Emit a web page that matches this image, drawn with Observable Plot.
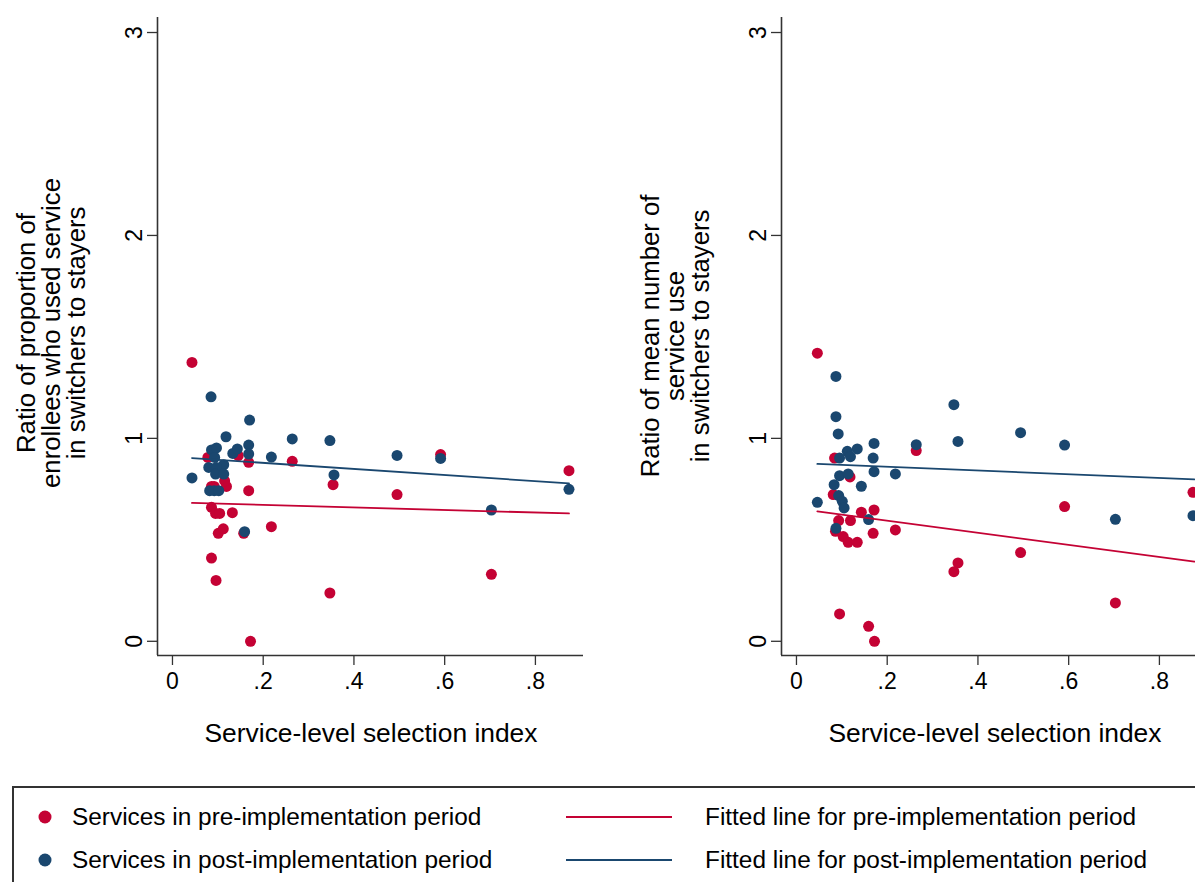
<!DOCTYPE html>
<html>
<head>
<meta charset="utf-8">
<script src="https://cdn.jsdelivr.net/npm/d3@7"></script>
<script src="https://cdn.jsdelivr.net/npm/@observablehq/plot@0.6"></script>
<style>
  html, body { margin: 0; padding: 0; background: #fff; overflow: hidden; width: 1195px; height: 882px; }
  body { position: relative; font-family: "Liberation Sans", Arial, sans-serif; color: #000; }
  .panel { position: absolute; top: 0; width: 620px; height: 700px; }
  .panel svg { max-width: none !important; }
  .ytitle { position: absolute; transform: translate(-50%, -50%) rotate(-90deg); text-align: center; white-space: nowrap; font-size: 25.7px; line-height: 25px; }
  .xtitle { position: absolute; transform: translate(-50%, -50%); white-space: nowrap; font-size: 26.4px; }
  #legend { position: absolute; left: 12px; top: 786px; width: 1260px; height: 140px; border: 2px solid #333; box-sizing: border-box; }
  .lg { position: absolute; white-space: nowrap; font-size: 24.4px; transform: translateY(-50%); }
</style>
</head>
<body>
<div id="left" class="panel" style="left:0px"></div>
<div id="right" class="panel" style="left:624px"></div>
<div class="ytitle" style="left:51px; top:333px">Ratio of proportion of<br>enrollees who used service<br>in switchers to stayers</div>
<div class="ytitle" style="left:675px; top:336px">Ratio of mean number of<br>service use<br>in switchers to stayers</div>
<div class="xtitle" style="left:371px; top:733px">Service-level selection index</div>
<div class="xtitle" style="left:995px; top:733px">Service-level selection index</div>
<div id="legend"></div>
<script>
// ---- data ----
const xTicks = [0, 0.2, 0.4, 0.6, 0.8];
const xTickLabels = ["0", ".2", ".4", ".6", ".8"];
const yTicks = [0, 1, 2, 3];
const yTickLabels = ["0", "1", "2", "3"];

const legendLabels = [
  "Services in pre-implementation period",
  "Services in post-implementation period",
  "Fitted line for pre-implementation period",
  "Fitted line for post-implementation period"
];

// Left panel: ratio of proportion of enrollees who used service
const leftPre = [[0.043,1.374],[0.172,0.0],[0.086,0.41],[0.096,0.30],[0.347,0.238],[0.218,0.565],[0.101,0.532],[0.112,0.554],[0.157,0.532],[0.086,0.66],[0.095,0.63],[0.104,0.63],[0.132,0.634],[0.086,0.763],[0.092,0.763],[0.119,0.763],[0.115,0.79],[0.168,0.742],[0.168,0.882],[0.145,0.915],[0.078,0.906],[0.264,0.887],[0.354,0.772],[0.591,0.92],[0.495,0.723],[0.703,0.33],[0.874,0.841]];
const leftPost = [[0.085,1.205],[0.170,1.09],[0.118,1.008],[0.264,0.997],[0.347,0.989],[0.086,0.943],[0.097,0.953],[0.133,0.926],[0.143,0.948],[0.168,0.967],[0.168,0.923],[0.218,0.908],[0.093,0.906],[0.113,0.870],[0.080,0.857],[0.097,0.857],[0.095,0.824],[0.113,0.824],[0.043,0.805],[0.082,0.742],[0.092,0.742],[0.102,0.742],[0.356,0.82],[0.159,0.54],[0.495,0.916],[0.591,0.901],[0.703,0.647],[0.874,0.749]];
const leftFitPre = [[0.043,0.682],[0.874,0.630]];
const leftFitPost = [[0.043,0.903],[0.874,0.778]];

// Right panel: ratio of mean number of service use
const rightPre = [[0.046,1.42],[0.095,0.135],[0.159,0.074],[0.172,0.0],[0.084,0.903],[0.264,0.94],[0.081,0.723],[0.118,0.81],[0.143,0.636],[0.171,0.647],[0.119,0.595],[0.093,0.595],[0.086,0.542],[0.103,0.516],[0.114,0.488],[0.134,0.488],[0.169,0.532],[0.218,0.549],[0.591,0.664],[0.494,0.437],[0.356,0.386],[0.347,0.343],[0.703,0.189],[0.874,0.734]];
const rightPost = [[0.087,1.305],[0.087,1.107],[0.092,1.022],[0.171,0.975],[0.264,0.969],[0.112,0.936],[0.134,0.948],[0.119,0.91],[0.095,0.903],[0.169,0.903],[0.171,0.836],[0.218,0.825],[0.095,0.816],[0.114,0.825],[0.143,0.764],[0.083,0.772],[0.093,0.718],[0.101,0.69],[0.105,0.657],[0.046,0.685],[0.159,0.6],[0.087,0.557],[0.347,1.166],[0.356,0.985],[0.494,1.028],[0.591,0.967],[0.703,0.601],[0.874,0.619]];
const rightFitPre = [[0.046,0.640],[0.877,0.393]];
const rightFitPost = [[0.046,0.874],[0.877,0.798]];

// ---- styling ----
const RED = "#c40234";
const BLUE = "#1a476f";
const AXIS = "#333333";
const xDomain = [-0.033, 0.906];
const yDomain = [-0.070, 3.074];

function panel(pre, post, fitPre, fitPost) {
  return Plot.plot({
    width: 620,
    height: 700,
    marginLeft: 157,
    marginTop: 17,
    marginRight: 37,
    marginBottom: 45,
    style: { fontFamily: "Liberation Sans, Arial, sans-serif", fontSize: "23px", color: "#000", background: "transparent", overflow: "visible", maxWidth: "none" },
    x: { domain: xDomain },
    y: { domain: yDomain },
    marks: [
      Plot.axisX(xTicks, { tickSize: 10, tickPadding: 7, fontSize: 23, stroke: AXIS, strokeWidth: 1.3, label: null,
        tickFormat: d => xTickLabels[xTicks.indexOf(d)] }),
      Plot.axisY(yTicks, { tickSize: 10, tickPadding: 6, tickRotate: -90, fontSize: 23, stroke: AXIS, strokeWidth: 1.3, label: null,
        tickFormat: d => yTickLabels[yTicks.indexOf(d)] }),
      Plot.ruleX([xDomain[0]], { stroke: AXIS, strokeWidth: 1.6 }),
      Plot.ruleY([yDomain[0]], { stroke: AXIS, strokeWidth: 1.6 }),
      Plot.dot(pre, { x: d => d[0], y: d => d[1], r: 5.5, fill: RED, stroke: "none" }),
      Plot.dot(post, { x: d => d[0], y: d => d[1], r: 5.5, fill: BLUE, stroke: "none" }),
      Plot.line(fitPre, { x: d => d[0], y: d => d[1], stroke: RED, strokeWidth: 1.8 }),
      Plot.line(fitPost, { x: d => d[0], y: d => d[1], stroke: BLUE, strokeWidth: 1.8 })
    ]
  });
}

document.getElementById("left").appendChild(panel(leftPre, leftPost, leftFitPre, leftFitPost));
document.getElementById("right").appendChild(panel(rightPre, rightPost, rightFitPre, rightFitPost));

// ---- legend ----
const legend = document.getElementById("legend");
const ox = 14, oy = 788; // legend content origin in page coords
const rows = [817, 860];
const colors = [RED, BLUE];
rows.forEach((ry, i) => {
  const sym = document.createElementNS("http://www.w3.org/2000/svg", "svg");
  sym.setAttribute("width", 1195); sym.setAttribute("height", 100);
  sym.style.position = "absolute"; sym.style.left = (-ox) + "px"; sym.style.top = (ry - 50 - oy) + "px";
  sym.innerHTML = `<circle cx="45" cy="50" r="6.5" fill="${colors[i]}"/>` +
    `<line x1="566" x2="672" y1="50" y2="50" stroke="${colors[i]}" stroke-width="2.2"/>`;
  legend.appendChild(sym);
  const t1 = document.createElement("div");
  t1.className = "lg"; t1.style.left = (72 - ox) + "px"; t1.style.top = (ry - oy) + "px";
  t1.textContent = legendLabels[i];
  legend.appendChild(t1);
  const t2 = document.createElement("div");
  t2.className = "lg"; t2.style.left = (705 - ox) + "px"; t2.style.top = (ry - oy) + "px";
  t2.textContent = legendLabels[i + 2];
  legend.appendChild(t2);
});
</script>
</body>
</html>
